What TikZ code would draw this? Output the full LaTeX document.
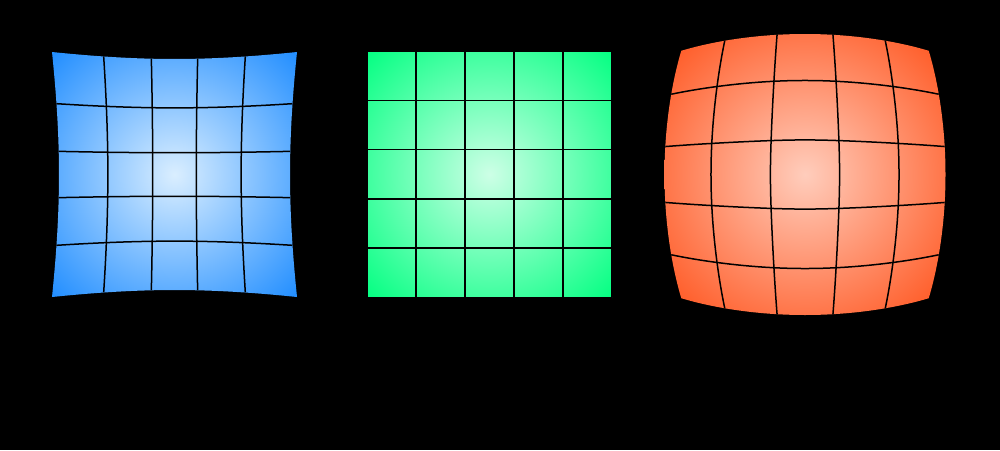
\documentclass[tikz,border=0pt]{standalone}
\definecolor{bluedark}{RGB}{30,140,255}
\definecolor{bluelight}{RGB}{218,238,255}
\definecolor{greendark}{RGB}{0,255,128}
\definecolor{greenlight}{RGB}{205,255,230}
\definecolor{orangedark}{RGB}{255,96,45}
\definecolor{orangelight}{RGB}{255,205,188}
\pgfdeclareradialshading{blueglow}{\pgfpointorigin}{color(0bp)=(bluelight); color(36bp)=(bluedark); color(50bp)=(bluedark)}
\pgfdeclareradialshading{greenglow}{\pgfpointorigin}{color(0bp)=(greenlight); color(36bp)=(greendark); color(50bp)=(greendark)}
\pgfdeclareradialshading{orangeglow}{\pgfpointorigin}{color(0bp)=(orangelight); color(31bp)=(orangedark); color(50bp)=(orangedark)}
\begin{document}
\begin{tikzpicture}[x=1pt,y=-1pt,
  gridline/.style={black,line width=1.5pt,line join=round},
  declare function={
    pinX(\u,\v)=174.5+122.5*\u*(0.886+0.057*(\u*\u+\v*\v));
    pinY(\u,\v)=174.5+122.5*\v*(0.886+0.057*(\u*\u+\v*\v));
    barX(\u,\v)=805+\u*(181-40.5*sqrt(\u*\u+\v*\v));
    barY(\u,\v)=174.5+\v*(181-40.5*sqrt(\u*\u+\v*\v));
    grX(\u,\v)=489.5+122.5*\u;
    grY(\u,\v)=174.3+123*\v;
  }]
\fill[black] (0,0) rectangle (1000,450);
\useasboundingbox (0,0) rectangle (1000,450);

% ---- pincushion (blue)
\shade[shading=blueglow]
  plot[domain=-1:1,samples=41,variable=\t] ({pinX(\t,-1)},{pinY(\t,-1)})
  -- plot[domain=-1:1,samples=41,variable=\t] ({pinX(1,\t)},{pinY(1,\t)})
  -- plot[domain=1:-1,samples=41,variable=\t] ({pinX(\t,1)},{pinY(\t,1)})
  -- plot[domain=1:-1,samples=41,variable=\t] ({pinX(-1,\t)},{pinY(-1,\t)}) -- cycle;
\foreach \a in {-0.6,-0.2,0.2,0.6}{
  \draw[gridline] plot[domain=-1:1,samples=41,variable=\t] ({pinX(\a,\t)},{pinY(\a,\t)});
  \draw[gridline] plot[domain=-1:1,samples=41,variable=\t] ({pinX(\t,\a)},{pinY(\t,\a)});
}

% ---- regular (green)
\shade[shading=greenglow]
  plot[domain=-1:1,samples=3,variable=\t] ({grX(\t,-1)},{grY(\t,-1)})
  -- plot[domain=-1:1,samples=3,variable=\t] ({grX(1,\t)},{grY(1,\t)})
  -- plot[domain=1:-1,samples=3,variable=\t] ({grX(\t,1)},{grY(\t,1)})
  -- plot[domain=1:-1,samples=3,variable=\t] ({grX(-1,\t)},{grY(-1,\t)}) -- cycle;
\foreach \a in {-1,-0.6,-0.2,0.2,0.6,1}{
  \draw[gridline] plot[domain=-1:1,samples=3,variable=\t] ({grX(\a,\t)},{grY(\a,\t)});
  \draw[gridline] plot[domain=-1:1,samples=3,variable=\t] ({grX(\t,\a)},{grY(\t,\a)});
}

% ---- barrel (orange)
\shade[shading=orangeglow]
  plot[domain=-1:1,samples=41,variable=\t] ({barX(\t,-1)},{barY(\t,-1)})
  -- plot[domain=-1:1,samples=41,variable=\t] ({barX(1,\t)},{barY(1,\t)})
  -- plot[domain=1:-1,samples=41,variable=\t] ({barX(\t,1)},{barY(\t,1)})
  -- plot[domain=1:-1,samples=41,variable=\t] ({barX(-1,\t)},{barY(-1,\t)}) -- cycle;
\foreach \a in {-0.6,-0.2,0.2,0.6}{
  \draw[gridline] plot[domain=-1:1,samples=41,variable=\t] ({barX(\a,\t)},{barY(\a,\t)});
  \draw[gridline] plot[domain=-1:1,samples=41,variable=\t] ({barX(\t,\a)},{barY(\t,\a)});
}
\end{tikzpicture}
\end{document}
